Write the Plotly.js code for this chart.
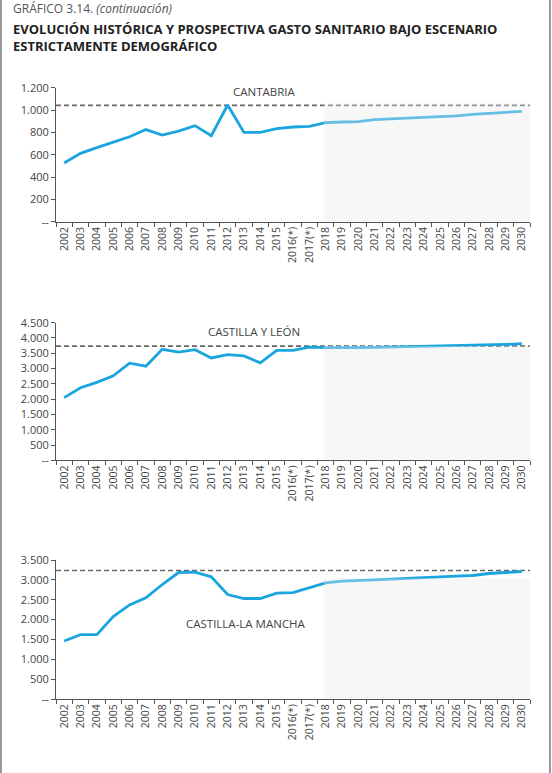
<!DOCTYPE html>
<html>
<head>
<meta charset="utf-8">
<script src="https://cdn.plot.ly/plotly-3.0.1.min.js"></script>
<style>
  html, body { margin: 0; padding: 0; background: #ffffff; }
  #chart { width: 552px; height: 773px; }
</style>
</head>
<body>
<div id="chart"></div>
<script>
// Years (history 2002-2017, projection 2018-2030)
const years = ['2002','2003','2004','2005','2006','2007','2008','2009','2010','2011',
  '2012','2013','2014','2015','2016(*)','2017(*)','2018','2019','2020','2021','2022',
  '2023','2024','2025','2026','2027','2028','2029','2030'];

// Health spending, millions of euros
const cantabria = [526, 612, 663, 711, 761, 825, 776, 812, 860, 770, 1045, 800, 800, 833, 848, 854,
  887, 893, 896, 914, 920, 929, 935, 941, 947, 962, 971, 977, 988];
const castillaLeon = [2051, 2375, 2547, 2764, 3175, 3078, 3628, 3541, 3617, 3347, 3455, 3412, 3185, 3597, 3597, 3700,
  3682, 3670, 3682, 3693, 3704, 3714, 3714, 3725, 3747, 3758, 3768, 3790, 3812];
const castillaMancha = [1462, 1622, 1622, 2076, 2370, 2546, 2883, 3185, 3193, 3076, 2630, 2530, 2530, 2664, 2681, 2810,
  2924, 2966, 2975, 3000, 3017, 3042, 3059, 3076, 3093, 3110, 3160, 3193, 3210];

// Horizontal reference levels (dashed) and projection band heights
const refLevels = [1042, 3735, 3235];
const bandTops = [1060, 3740, 3040];

// Y axis ticks
const ticks1 = [0, 200, 400, 600, 800, 1000, 1200];
const labels1 = ['--', '200', '400', '600', '800', '1.000', '1.200'];
const ticks2 = [0, 500, 1000, 1500, 2000, 2500, 3000, 3500, 4000, 4500];
const labels2 = ['--', '500', '1.000', '1.500', '2.000', '2.500', '3.000', '3.500', '4.000', '4.500'];
const ticks3 = [0, 500, 1000, 1500, 2000, 2500, 3000, 3500];
const labels3 = ['--', '500', '1.000', '1.500', '2.000', '2.500', '3.000', '3.500'];

const regions = ['CANTABRIA', 'CASTILLA Y LEÓN', 'CASTILLA-LA MANCHA'];

const W = 552, H = 773;
const FONT = '"Open Sans", "Noto Sans", sans-serif';
const BLUE = '#1aa5df';

// panel geometry in pixels: [top, bottom]
const panels = [
  { series: cantabria, top: 87.7, bottom: 221.7, range: [0, 1200], tv: ticks1, tt: labels1, label: { x: 264, y: 91 } },
  { series: castillaLeon, top: 322.7, bottom: 460.3, range: [0, 4500], tv: ticks2, tt: labels2, label: { x: 254, y: 331 } },
  { series: castillaMancha, top: 560, bottom: 699, range: [0, 3500], tv: ticks3, tt: labels3, label: { x: 246, y: 623 } }
];
const xLeft = 56, xRight = 530;

const data = [];
const layout = {
  width: W, height: H,
  margin: { l: 0, r: 0, t: 0, b: 0 },
  paper_bgcolor: '#ffffff',
  plot_bgcolor: 'rgba(0,0,0,0)',
  showlegend: false,
  font: { family: FONT, color: '#444', size: 11 },
  shapes: [],
  annotations: []
};

panels.forEach((p, k) => {
  const n = k === 0 ? '' : String(k + 1);
  const xa = 'x' + n, ya = 'y' + n;
  data.push({
    type: 'scatter', mode: 'lines',
    x: years, y: p.series,
    xaxis: xa, yaxis: ya,
    line: { color: BLUE, width: 2.8 },
    hoverinfo: 'skip'
  });
  layout['xaxis' + n] = {
    domain: [xLeft / W, xRight / W],
    anchor: ya,
    type: 'category',
    tickson: 'boundaries',
    ticks: 'outside', ticklen: 4, tickcolor: '#555', tickwidth: 1,
    showline: true, linecolor: '#555', linewidth: 1,
    showgrid: false, zeroline: false,
    tickangle: -90,
    tickfont: { family: FONT, size: 10.5, color: '#444' },
    range: [-0.5, years.length - 0.5],
    fixedrange: true
  };
  layout['yaxis' + n] = {
    domain: [(H - p.bottom) / H, (H - p.top) / H],
    anchor: xa,
    range: p.range,
    tickmode: 'array', tickvals: p.tv, ticktext: p.tt,
    ticks: 'outside', ticklen: 4, tickcolor: '#555', tickwidth: 1,
    showline: true, linecolor: '#555', linewidth: 1,
    showgrid: false, zeroline: false,
    tickfont: { family: FONT, size: 11, color: '#444' },
    fixedrange: true
  };
  // dashed reference level across the full width
  layout.shapes.push({
    type: 'line', xref: xa + ' domain', yref: ya,
    x0: 0, x1: 1, y0: refLevels[k], y1: refLevels[k],
    line: { color: '#666', width: 1.6, dash: '5px,3px' },
    layer: 'below'
  });
  // translucent band over the projection years
  layout.shapes.push({
    type: 'rect', xref: xa, yref: ya,
    x0: 15.87, x1: years.length - 0.5, y0: 0, y1: bandTops[k],
    fillcolor: 'rgba(233,233,237,0.37)', line: { width: 0 },
    layer: 'above'
  });
  layout.annotations.push({
    xref: 'paper', yref: 'paper',
    x: p.label.x / W, y: (H - p.label.y) / H,
    xanchor: 'center', yanchor: 'middle',
    text: regions[k], showarrow: false,
    font: { family: FONT, size: 11.5, color: '#444' }
  });
});

// Header texts
layout.annotations.push({
  xref: 'paper', yref: 'paper', x: 11 / W, y: (H - 8) / H,
  xanchor: 'left', yanchor: 'middle', showarrow: false,
  text: 'GRÁFICO 3.14. <i>(continuación)</i>',
  font: { family: FONT, size: 12, color: '#555' }
});
layout.annotations.push({
  xref: 'paper', yref: 'paper', x: 11 / W, y: (H - 38) / H,
  xanchor: 'left', yanchor: 'middle', align: 'left', showarrow: false,
  text: '<b>EVOLUCIÓN HISTÓRICA Y PROSPECTIVA GASTO SANITARIO BAJO ESCENARIO</b><br><b>ESTRICTAMENTE DEMOGRÁFICO</b>',
  font: { family: FONT, size: 13, color: '#222' }
});

// Frame lines on the left and right edges
layout.shapes.push({
  type: 'line', xref: 'paper', yref: 'paper',
  x0: 1 / W, x1: 1 / W, y0: 0, y1: 1,
  line: { color: '#9a9a9a', width: 2 }
});
layout.shapes.push({
  type: 'line', xref: 'paper', yref: 'paper',
  x0: 550 / W, x1: 550 / W, y0: 0, y1: 1,
  line: { color: '#9a9a9a', width: 2 }
});

Plotly.newPlot('chart', data, layout, { staticPlot: true, displayModeBar: false });
</script>
</body>
</html>
